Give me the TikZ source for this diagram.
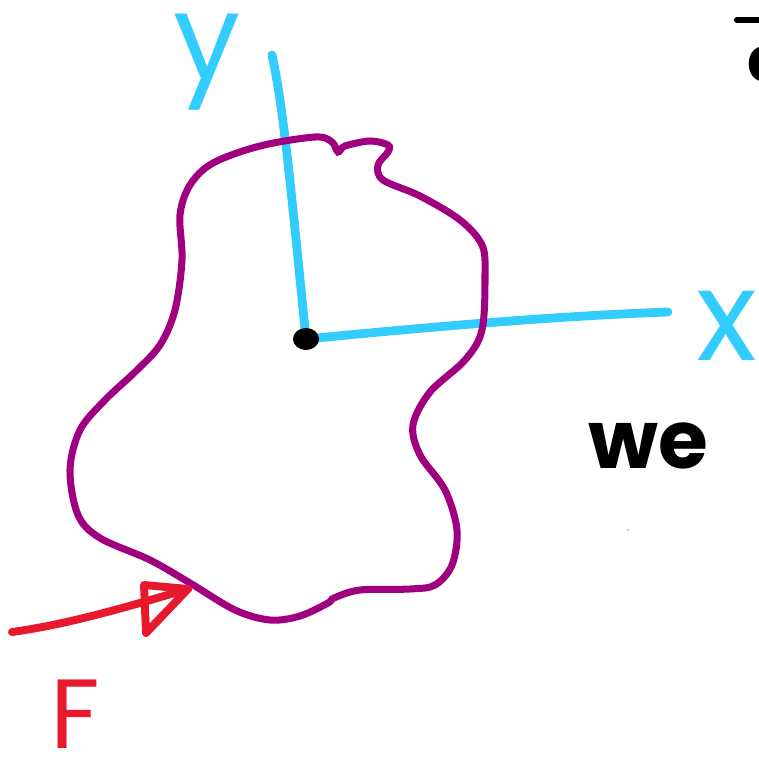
\documentclass[tikz,border=0pt]{standalone}
\usepackage{fontspec}
\setmainfont{Poppins}
\usepackage{tikz}
\usetikzlibrary{shapes.geometric,backgrounds}
\definecolor{blobpurple}{HTML}{A0007F}
\definecolor{axiscyan}{HTML}{33CCFF}
\definecolor{forcered}{HTML}{E8192C}

\begin{document}
\begin{tikzpicture}[x=0.02cm,y=-0.02cm]
 \useasboundingbox (0,0) rectangle (758,767);
 \node[ellipse,fill=black,minimum width=0.52cm,minimum height=0.44cm,inner sep=0pt] at (306,339)(orig){};
 \coordinate (ytop) at (272,55);
 \coordinate (xend) at (668,312);
 \begin{scope}[on background layer]
 \draw [axiscyan,line width=5pt,line cap=round] (orig.center) .. controls (292,200) and (284,110) .. (ytop);
 \draw [axiscyan,line width=5pt,line cap=round] (orig.center) .. controls (450,325) and (560,316) .. (xend);
 \end{scope}
 \draw [blobpurple,line width=4pt] plot[smooth cycle,tension=0.55] coordinates {
  (213,163) (260,146) (315,137) (332,142) (338,152) (345,146) (370,141) (388,145)
  (388,152) (378,165) (383,180) (420,196) (460,220) (482,245) (485,275) (482,330)
  (465,360) (430,392) (413,425) (420,455) (445,490) (457,530) (452,565) (435,585)
  (410,589) (360,590) (334,598) (328,603) (300,616) (270,620) (235,610) (190,583)
  (150,560) (100,538) (78,515) (70,470) (80,430) (105,400) (135,372) (160,345)
  (175,310) (182,260) (180,215) (190,185)};
 \node[circle,fill=black,minimum size=0.7pt,inner sep=0pt] at (628,530)(speck){};
 \coordinate (ftail) at (12,632);
 \coordinate (ftip) at (188,589);
 \coordinate (fbase1) at (144,585);
 \coordinate (fbase2) at (146,633);
 \draw [forcered,line width=4.5pt,line cap=round] (ftail) .. controls (70,624) and (130,606) .. (ftip);
 \draw [forcered,line width=4.5pt,line cap=round,line join=round] (fbase1) -- (ftip) -- (fbase2) -- cycle;
 \node[text=axiscyan,font=\fontsize{68}{68}\selectfont,anchor=base] at (207,80)(ylab){y};
 \node[text=axiscyan,font=\fontsize{72}{72}\selectfont,anchor=base] at (727,360)(xlab){x};
 \node[text=forcered,font=\fontsize{56}{56}\selectfont,anchor=base,text depth=0pt,inner sep=0pt] at (75,748)(flab){F};
 \node[font=\fontsize{46}{46}\selectfont\bfseries,anchor=base] at (648,468)(welab){we};
 \node[font=\fontsize{35}{35}\selectfont\bfseries,anchor=base west] at (741,82)(alab){a};
 \draw [black,line width=3.5pt,line cap=round] (737,20) -- (760,20);
\end{tikzpicture}
\end{document}
